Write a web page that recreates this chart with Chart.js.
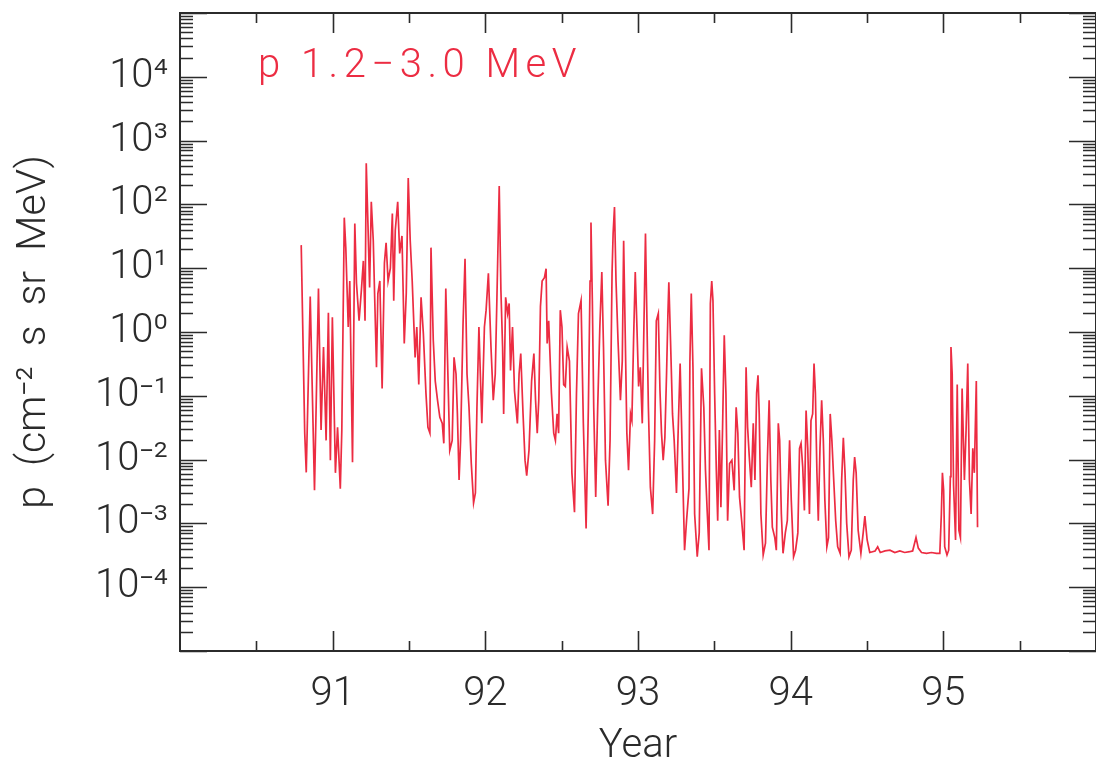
<!DOCTYPE html>
<html>
<head>
<meta charset="utf-8">
<title>p 1.2-3.0 MeV</title>
<script src="https://cdn.jsdelivr.net/npm/chart.js@4.4.0/dist/chart.umd.min.js"></script>
<style>
    html, body { margin: 0; padding: 0; background: #ffffff; }
    #grafica { display: block; }
</style>
</head>
<body>
<canvas id="grafica" width="1096" height="762"></canvas>
<script>
// Flujo de protones 1.2-3.0 MeV (año, flujo).

var anios = [
    90.794, 90.817, 90.827, 90.853, 90.881, 90.907, 90.924, 90.940, 90.957, 90.972,
    90.985, 90.998, 91.018, 91.032, 91.050, 91.060, 91.076, 91.086, 91.102, 91.112,
    91.130, 91.145, 91.156, 91.173, 91.188, 91.201, 91.212, 91.220, 91.231, 91.242,
    91.253, 91.266, 91.274, 91.287, 91.296, 91.309, 91.324, 91.339, 91.350, 91.363,
    91.378, 91.391, 91.400, 91.410, 91.426, 91.439, 91.454, 91.469, 91.482, 91.495,
    91.508, 91.521, 91.540, 91.551, 91.564, 91.579, 91.594, 91.611, 91.624, 91.637,
    91.644, 91.659, 91.672, 91.687, 91.702, 91.718, 91.728, 91.741, 91.752, 91.767,
    91.783, 91.795, 91.808, 91.817, 91.828, 91.838, 91.854, 91.867, 91.880, 91.893,
    91.908, 91.923, 91.935, 91.945, 91.958, 91.977, 91.994, 92.005, 92.020, 92.037,
    92.052, 92.065, 92.076, 92.091, 92.102, 92.113, 92.120, 92.133, 92.146, 92.156,
    92.165, 92.178, 92.191, 92.210, 92.221, 92.232, 92.247, 92.260, 92.271, 92.286,
    92.303, 92.318, 92.329, 92.340, 92.350, 92.361, 92.372, 92.387, 92.398, 92.405,
    92.415, 92.433, 92.448, 92.459, 92.470, 92.480, 92.491, 92.502, 92.513, 92.524,
    92.536, 92.551, 92.567, 92.584, 92.597, 92.610, 92.627, 92.642, 92.660, 92.675,
    92.686, 92.692, 92.701, 92.710, 92.723, 92.736, 92.750, 92.763, 92.774, 92.787,
    92.804, 92.817, 92.830, 92.837, 92.846, 92.856, 92.869, 92.885, 92.897, 92.906,
    92.917, 92.927, 92.938, 92.951, 92.960, 92.971, 92.982, 92.993, 93.004, 93.015,
    93.028, 93.038, 93.049, 93.057, 93.068, 93.081, 93.096, 93.109, 93.120, 93.133,
    93.144, 93.154, 93.165, 93.176, 93.187, 93.196, 93.202, 93.213, 93.226, 93.237,
    93.252, 93.265, 93.276, 93.295, 93.305, 93.318, 93.334, 93.340, 93.349, 93.360,
    93.371, 93.388, 93.401, 93.416, 93.431, 93.442, 93.453, 93.465, 93.474, 93.483,
    93.491, 93.502, 93.513, 93.522, 93.533, 93.543, 93.554, 93.565, 93.576, 93.587,
    93.600, 93.615, 93.630, 93.643, 93.654, 93.665, 93.679, 93.695, 93.708, 93.718,
    93.729, 93.742, 93.755, 93.766, 93.777, 93.786, 93.794, 93.805, 93.820, 93.835,
    93.848, 93.859, 93.870, 93.880, 93.896, 93.906, 93.919, 93.928, 93.939, 93.950,
    93.965, 93.978, 93.993, 94.004, 94.019, 94.032, 94.047, 94.058, 94.068, 94.079,
    94.090, 94.101, 94.112, 94.123, 94.133, 94.144, 94.153, 94.162, 94.172, 94.181,
    94.192, 94.203, 94.214, 94.224, 94.237, 94.248, 94.259, 94.270, 94.282, 94.295,
    94.308, 94.324, 94.334, 94.345, 94.356, 94.367, 94.382, 94.397, 94.410, 94.419,
    94.429, 94.442, 94.460, 94.475, 94.486, 94.501, 94.518, 94.553, 94.570, 94.587,
    94.618, 94.650, 94.682, 94.715, 94.747, 94.779, 94.799, 94.821, 94.836, 94.857,
    94.890, 94.922, 94.955, 94.977, 94.987, 94.994, 95.002, 95.009, 95.024, 95.035,
    95.046, 95.050, 95.058, 95.067, 95.080, 95.091, 95.102, 95.112, 95.123, 95.138,
    95.149, 95.160, 95.171, 95.182, 95.193, 95.203, 95.216, 95.224
];

var flujo = [
    23, 0.026, 0.0063, 3.6, 0.0033, 4.8, 0.029, 0.58, 0.020, 2.0,
    0.0098, 1.7, 0.0062, 0.032, 0.0035, 0.029, 62, 21, 1.2, 6.3,
    0.0091, 50, 5.8, 1.5, 4.5, 13, 1.5, 440, 50, 5.0,
    110, 27, 4.5, 0.28, 4.0, 6.3, 0.13, 12, 25, 6.3,
    10, 72, 3.1, 39, 110, 17, 32, 0.66, 4.0, 260,
    27, 6.3, 0.40, 1.2, 0.15, 3.5, 0.95, 0.11, 0.032, 0.026,
    21, 0.74, 0.17, 0.085, 0.046, 0.037, 0.018, 4.8, 0.40, 0.014,
    0.020, 0.40, 0.22, 0.052, 0.0048, 0.020, 1.35, 14, 0.22, 0.066,
    0.0087, 0.0021, 0.0030, 0.066, 1.2, 0.037, 1.2, 2.2, 8.3, 0.58,
    0.085, 0.22, 3.5, 195, 4.5, 0.58, 0.052, 3.5, 1.95, 2.8,
    0.25, 1.2, 0.12, 0.037, 0.22, 0.46, 0.052, 0.0098, 0.0056, 0.014,
    0.17, 0.46, 0.085, 0.026, 0.085, 2.5, 6.3, 7.1, 9.8, 0.66,
    1.5, 0.11, 0.026, 0.020, 0.052, 0.026, 2.2, 1.2, 0.15, 0.14,
    0.58, 0.35, 0.0062, 0.0015, 0.11, 1.95, 3.1, 0.037, 0.00083, 0.066,
    6.3, 52, 3.1, 0.066, 0.0026, 0.066, 1.2, 8.7, 0.58, 0.0098,
    0.0019, 0.020, 8.3, 35, 91, 6.3, 0.74, 0.085, 0.35, 27,
    0.74, 0.026, 0.0068, 0.052, 0.041, 0.74, 8.7, 1.2, 0.14, 0.28,
    0.037, 0.95, 35, 2.5, 0.066, 0.0037, 0.0014, 0.020, 1.5, 1.95,
    0.12, 0.026, 0.0098, 0.022, 0.22, 1.95, 6.0, 0.74, 0.052, 0.020,
    0.0030, 0.041, 0.32, 0.0037, 0.00038, 0.0011, 0.0035, 0.35, 4.0, 0.28,
    0.0014, 0.00030, 0.00071, 0.27, 0.066, 0.0068, 0.0016, 0.00038, 2.8, 6.3,
    3.1, 0.11, 0.0068, 0.0011, 0.029, 0.0018, 0.032, 0.89, 0.11, 0.0011,
    0.0087, 0.0098, 0.0033, 0.066, 0.026, 0.0026, 0.0011, 0.00038, 0.28, 0.032,
    0.011, 0.0037, 0.037, 0.0048, 0.11, 0.21, 0.052, 0.0014, 0.00032, 0.00049,
    0.011, 0.085, 0.0048, 0.00087, 0.00060, 0.00038, 0.037, 0.020, 0.0014, 0.00034,
    0.00071, 0.0011, 0.020, 0.0023, 0.00030, 0.00038, 0.00071, 0.015, 0.018, 0.0076,
    0.0016, 0.059, 0.015, 0.0014, 0.041, 0.052, 0.32, 0.11, 0.0062, 0.0011,
    0.015, 0.085, 0.020, 0.0023, 0.00043, 0.00060, 0.052, 0.020, 0.0048, 0.0011,
    0.00043, 0.00034, 0.0048, 0.022, 0.0062, 0.0010, 0.00030, 0.00038, 0.0048, 0.011,
    0.0062, 0.00078, 0.00034, 0.00071, 0.0013, 0.00055, 0.00035, 0.00037, 0.00043, 0.00035,
    0.00037, 0.00038, 0.00035, 0.00037, 0.00035, 0.00036, 0.00037, 0.00060, 0.00041, 0.00035,
    0.00034, 0.00035, 0.00034, 0.00034, 0.0014, 0.0062, 0.0033, 0.00043, 0.00032, 0.00038,
    0.0054, 0.58, 0.22, 0.0040, 0.00055, 0.15, 0.00078, 0.00060, 0.13, 0.0048,
    0.029, 0.32, 0.0048, 0.0014, 0.015, 0.0062, 0.17, 0.00087
];

// Marcas y etiquetas de los ejes.
var anioMarcas = [90.5, 91, 91.5, 92, 92.5, 93, 93.5, 94, 94.5, 95, 95.5];
var anioEtiquetas = [91, 92, 93, 94, 95];
var decadas = [1e-5, 1e-4, 1e-3, 1e-2, 1e-1, 1e0, 1e1, 1e2, 1e3, 1e4, 1e5];
var decadasEtiquetas = ['', '10\u207B\u2074', '10\u207B\u00B3', '10\u207B\u00B2', '10\u207B\u00B9',
    '10\u2070', '10\u00B9', '10\u00B2', '10\u00B3', '10\u2074', ''];
var menores = [2, 3, 4, 5, 6, 7, 8, 9];

var etiquetaCanal = 'p 1.2\u22123.0 MeV';
var tituloY = 'p  (cm\u207B\u00B2  s  sr  MeV)';
var tituloX = 'Year';

var colorRojo = 'rgb(236, 44, 66)';
var colorEje = '#2b2b2b';
var familia = 'Roboto, "DejaVu Sans", sans-serif';

// Arma los puntos de la serie a partir de los arreglos.
function getPuntos() {
    var puntos = [];
    for (var i = 0; i < anios.length; i++) {
        puntos.push({ x: anios[i], y: flujo[i] });
    }
    return puntos;
}

// Dibuja el marco y las marcas hacia adentro en los cuatro lados.
var marcoPlugin = {
    id: 'marco',
    afterDraw: function (chart) {
        var c = chart.ctx;
        var a = chart.chartArea;
        var sx = chart.scales.x;
        var sy = chart.scales.y;
        c.save();
        c.strokeStyle = colorEje;
        c.lineWidth = 1.6;
        c.beginPath();
        for (var i = 0; i < anioMarcas.length; i++) {
            var px = Math.round(sx.getPixelForValue(anioMarcas[i])) + 0.5;
            var lx = anioEtiquetas.indexOf(anioMarcas[i]) >= 0 ? 20 : 10;
            c.moveTo(px, a.bottom);
            c.lineTo(px, a.bottom - lx);
            c.moveTo(px, a.top);
            c.lineTo(px, a.top + lx);
        }
        for (var d = 0; d < decadas.length; d++) {
            var py = Math.round(sy.getPixelForValue(decadas[d])) + 0.5;
            c.moveTo(a.left, py);
            c.lineTo(a.left + 27, py);
            c.moveTo(a.right, py);
            c.lineTo(a.right - 27, py);
            if (d == decadas.length - 1) {
                continue;
            }
            for (var m = 0; m < menores.length; m++) {
                var pm = Math.round(sy.getPixelForValue(decadas[d] * menores[m])) + 0.5;
                c.moveTo(a.left, pm);
                c.lineTo(a.left + 13, pm);
                c.moveTo(a.right, pm);
                c.lineTo(a.right - 13, pm);
            }
        }
        c.stroke();
        c.lineWidth = 2;
        c.strokeRect(a.left, a.top, a.right - a.left, a.bottom - a.top);
        c.restore();
    }
};

// Escribe la etiqueta del canal de energia dentro del area de la grafica.
var etiquetaPlugin = {
    id: 'etiqueta',
    afterDraw: function (chart) {
        var c = chart.ctx;
        var a = chart.chartArea;
        c.save();
        c.fillStyle = colorRojo;
        c.font = '300 40px ' + familia;
        c.textBaseline = 'alphabetic';
        c.textAlign = 'left';
        if ('letterSpacing' in c) {
            c.letterSpacing = '5.5px';
        }
        c.fillText(etiquetaCanal, a.left + 78, a.top + 64);
        c.restore();
    }
};

var fuenteTicks = { family: familia, size: 40, weight: 300 };

var chart = new Chart(document.getElementById('grafica').getContext('2d'), {
    type: 'line',
    data: {
        datasets: [{
            data: getPuntos(),
            borderColor: colorRojo,
            borderWidth: 1.7,
            pointRadius: 0,
            tension: 0,
            fill: false
        }]
    },
    options: {
        responsive: false,
        animation: false,
        layout: { padding: { top: 13, right: -10, bottom: 0, left: 0 } },
        plugins: {
            legend: { display: false },
            tooltip: { enabled: false }
        },
        scales: {
            x: {
                type: 'linear',
                min: 90,
                max: 96,
                grid: { display: false, drawTicks: false },
                border: { display: false },
                afterBuildTicks: function (scale) {
                    scale.ticks = anioMarcas.map(function (v) { return { value: v }; });
                },
                afterFit: function (scale) {
                    scale.height = 111;
                    scale.paddingLeft = 0;
                    scale.paddingRight = 0;
                },
                ticks: {
                    autoSkip: false,
                    maxRotation: 0,
                    padding: 20,
                    color: colorEje,
                    font: fuenteTicks,
                    callback: function (v) {
                        return anioEtiquetas.indexOf(v) >= 0 ? String(v) : '';
                    }
                },
                title: {
                    display: true,
                    text: tituloX,
                    color: colorEje,
                    font: { family: familia, size: 40, weight: 300, lineHeight: 1 },
                    padding: { top: 0, bottom: -5 }
                }
            },
            y: {
                type: 'logarithmic',
                min: 1e-5,
                max: 1e5,
                grid: { display: false, drawTicks: false },
                border: { display: false },
                afterBuildTicks: function (scale) {
                    scale.ticks = decadas.map(function (v) { return { value: v }; });
                },
                afterFit: function (scale) {
                    scale.width = 180;
                    scale.paddingTop = 0;
                    scale.paddingBottom = 0;
                },
                ticks: {
                    autoSkip: false,
                    padding: 12,
                    color: colorEje,
                    font: fuenteTicks,
                    callback: function (v) {
                        var i = decadas.indexOf(v);
                        return i >= 0 ? decadasEtiquetas[i] : '';
                    }
                },
                title: {
                    display: true,
                    text: tituloY,
                    color: colorEje,
                    font: { family: familia, size: 41, weight: 300, lineHeight: 1 },
                    padding: { top: 14, bottom: 0 }
                }
            }
        }
    },
    plugins: [marcoPlugin, etiquetaPlugin]
});
</script>
</body>
</html>
